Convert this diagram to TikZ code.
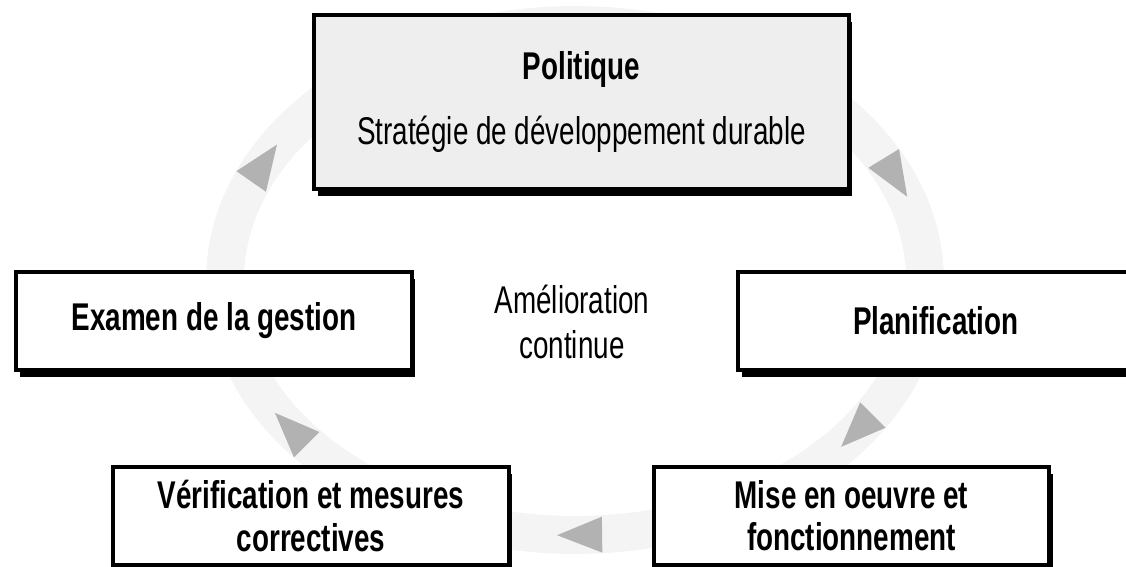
\documentclass[tikz,border=0pt]{standalone}
\usepackage{fontspec}
\setmainfont{Liberation Sans}[FakeStretch=0.72]
\usetikzlibrary{positioning, calc, shadows}
\definecolor{ringgray}{HTML}{F4F4F4}
\definecolor{tipgray}{HTML}{B2B2B2}
\definecolor{boxgray}{HTML}{EEEEEE}

\begin{document}
\begin{tikzpicture}[x=0.02cm, y=0.02cm,
	stage/.style={draw, line width=0.08cm, fill=white, align=center, inner sep=0pt,
		minimum width=7.91cm, minimum height=1.96cm,
		font=\fontsize{22}{24}\selectfont\bfseries,
		drop shadow={shadow xshift=0.07cm, shadow yshift=-0.14cm, fill=black, opacity=1}},
	note/.style={align=center, font=\fontsize{22}{25.6}\selectfont},
	cycle/.style={draw=ringgray, line width=0.76cm},
	tip/.style={fill=tipgray}]
	
	\useasboundingbox (0,0) rectangle (1126,567);
	\clip (0,0) rectangle (1126,567);
	
	% Loop
	\coordinate (hub) at (575,287);
	\draw[cycle] (hub) ellipse [x radius=7cm, y radius=5.1cm];
	\foreach \t in {153,24,-36,-89,-144}
		\fill[tip, shift={($(hub)+(\t:7cm and 5.1cm)$)}, rotate={atan2(-5.1*cos(\t),7*sin(\t))}]
			(24,0) -- (-21,18) -- (-21,-18) -- cycle;
	
	% Stages
	\node[stage, fill=boxgray, minimum width=10.70cm, minimum height=3.48cm] (politique) at (581.5,465)
		{Politique\\[13pt]\mdseries Stratégie de développement durable};
	\node[stage] (examen) at (214,246) {Examen de la gestion};
	\node[stage, right=6.45cm of examen] (planif) {Planification};
	\node[stage] (verif) at (311,51) {Vérification et mesures\\correctives};
	\node[stage, right=2.82cm of verif] (mise) {Mise en oeuvre et\\fonctionnement};
	
	\node[note] (amelio) at (572,245) {Amélioration\\continue};
	
\end{tikzpicture}
\end{document}
